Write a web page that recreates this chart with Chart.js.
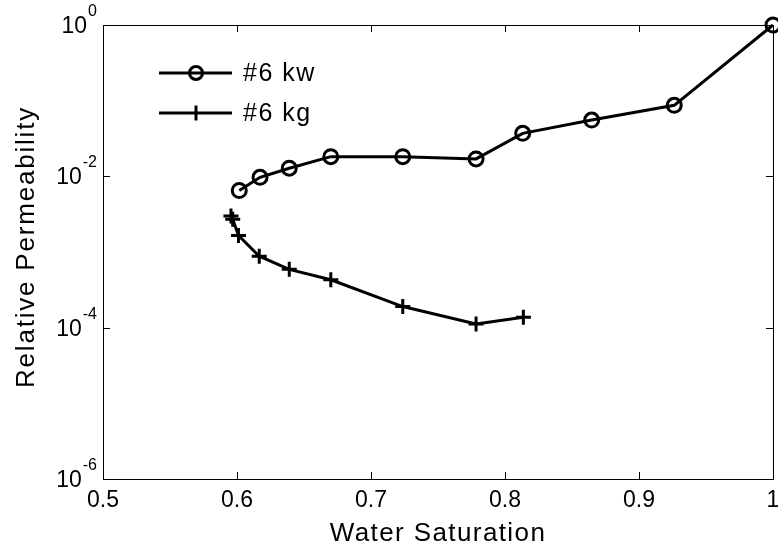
<!DOCTYPE html>
<html>
<head>
<meta charset="utf-8">
<script src="https://cdn.jsdelivr.net/npm/chart.js@4.4.1/dist/chart.umd.min.js"></script>
<style>
  body { margin: 0; background: #fff; }
  #wrap { width: 778px; height: 552px; }
</style>
</head>
<body>
<div id="wrap"><canvas id="grafico" width="778" height="552"></canvas></div>
<script>
// water saturation / relative permeability
const kwSw = [0.6017, 0.6172, 0.639, 0.670, 0.7237, 0.7784, 0.8132, 0.8647, 0.9263, 1.0];
const kwKr = [0.0065, 0.0097, 0.0128, 0.0182, 0.0182, 0.0170, 0.0370, 0.0555, 0.0868, 1.0];
const kgSw = [0.5955, 0.5968, 0.6011, 0.6166, 0.639, 0.670, 0.7237, 0.7784, 0.8137];
const kgKr = [0.0030, 0.0027, 0.00165, 0.00088, 0.00059, 0.00043, 0.00019, 0.000112, 0.000137];

const seriesNames = ['#6 kw', '#6 kg'];
const xTicks = [0.5, 0.6, 0.7, 0.8, 0.9, 1];
const xTickLabels = ['0.5', '0.6', '0.7', '0.8', '0.9', '1'];
const yTicks = [1e-6, 1e-4, 1e-2, 1];
const yExponents = ['-6', '-4', '-2', '0'];
const xTitle = 'Water Saturation';
const yTitle = 'Relative Permeability';

const FONT = '"Liberation Sans", Arial, Helvetica, sans-serif';

function toPoints(xs, ys) {
    return xs.map((x, i) => ({ x: x, y: ys[i] }));
}

// frame, inward ticks, tick labels, axis titles and legend (matlab style)
const eixos = {
    id: 'eixos',
    beforeDatasetsDraw(chart) {
        const ctx = chart.ctx;
        const a = chart.chartArea;
        const sx = chart.scales.x;
        const sy = chart.scales.y;
        ctx.save();
        ctx.strokeStyle = '#000';
        ctx.lineWidth = 1;
        ctx.strokeRect(a.left + 0.5, a.top + 0.5, a.right - a.left, a.bottom - a.top);

        ctx.beginPath();
        xTicks.forEach(v => {
            const px = Math.round(sx.getPixelForValue(v)) + 0.5;
            ctx.moveTo(px, a.bottom); ctx.lineTo(px, a.bottom - 7);
            ctx.moveTo(px, a.top); ctx.lineTo(px, a.top + 7);
        });
        yTicks.forEach(v => {
            const py = Math.round(sy.getPixelForValue(v)) + 0.5;
            ctx.moveTo(a.left, py); ctx.lineTo(a.left + 7, py);
            ctx.moveTo(a.right, py); ctx.lineTo(a.right - 7, py);
        });
        ctx.stroke();

        ctx.fillStyle = '#000';
        ctx.font = '23px ' + FONT;
        ctx.textAlign = 'center';
        ctx.textBaseline = 'alphabetic';
        xTicks.forEach((v, i) => {
            ctx.fillText(xTickLabels[i], sx.getPixelForValue(v), a.bottom + 28);
        });

        yTicks.forEach((v, i) => {
            const py = sy.getPixelForValue(v);
            ctx.font = '16px ' + FONT;
            const expW = ctx.measureText(yExponents[i]).width;
            ctx.textAlign = 'left';
            ctx.fillText(yExponents[i], a.left - 6 - expW, py - 9);
            ctx.font = '23px ' + FONT;
            ctx.textAlign = 'right';
            ctx.fillText('10', a.left - 6 - expW - 1, py + 8);
        });

        ctx.font = '26px ' + FONT;
        ctx.letterSpacing = '1.4px';
        ctx.textAlign = 'center';
        ctx.fillText(xTitle, (a.left + a.right) / 2, 541);
        ctx.letterSpacing = '1.8px';
        ctx.translate(34, (a.top + a.bottom) / 2 - 5);
        ctx.rotate(-Math.PI / 2);
        ctx.fillText(yTitle, 0, 0);
        ctx.restore();
    },
    afterDraw(chart) {
        const ctx = chart.ctx;
        ctx.save();
        ctx.strokeStyle = '#000';
        ctx.fillStyle = '#000';
        ctx.lineWidth = 3;
        const rows = [73, 113];
        rows.forEach((y, i) => {
            ctx.beginPath();
            ctx.moveTo(159, y); ctx.lineTo(232, y);
            ctx.stroke();
            ctx.beginPath();
            if (i === 0) {
                ctx.arc(196, y, 6.5, 0, Math.PI * 2);
            } else {
                ctx.moveTo(196, y - 7.5); ctx.lineTo(196, y + 7.5);
            }
            ctx.stroke();
            ctx.font = '25px ' + FONT;
            ctx.letterSpacing = '1.5px';
            ctx.textAlign = 'left';
            ctx.textBaseline = 'middle';
            ctx.fillText(seriesNames[i], 243, y + 1);
        });
        ctx.restore();
    }
};

const ctx = document.getElementById('grafico').getContext('2d');
const chart = new Chart(ctx, {
    type: 'scatter',
    data: {
        datasets: [{
            label: seriesNames[0],
            data: toPoints(kwSw, kwKr),
            showLine: true,
            borderColor: '#000',
            borderWidth: 3,
            pointStyle: 'circle',
            pointRadius: 7,
            pointBorderWidth: 3,
            pointBackgroundColor: 'rgba(0,0,0,0)',
            pointBorderColor: '#000',
            clip: false
        }, {
            label: seriesNames[1],
            data: toPoints(kgSw, kgKr),
            showLine: true,
            borderColor: '#000',
            borderWidth: 3,
            pointStyle: 'cross',
            pointRadius: 7.5,
            pointBorderWidth: 3,
            pointBorderColor: '#000',
            clip: false
        }]
    },
    options: {
        responsive: false,
        animation: false,
        layout: { autoPadding: false, padding: { left: 103, top: 25, right: 5, bottom: 73 } },
        plugins: {
            legend: { display: false },
            tooltip: { enabled: false }
        },
        scales: {
            x: { type: 'linear', min: 0.5, max: 1, display: false },
            y: { type: 'logarithmic', min: 1e-6, max: 1, display: false }
        }
    },
    plugins: [eixos]
});
</script>
</body>
</html>
